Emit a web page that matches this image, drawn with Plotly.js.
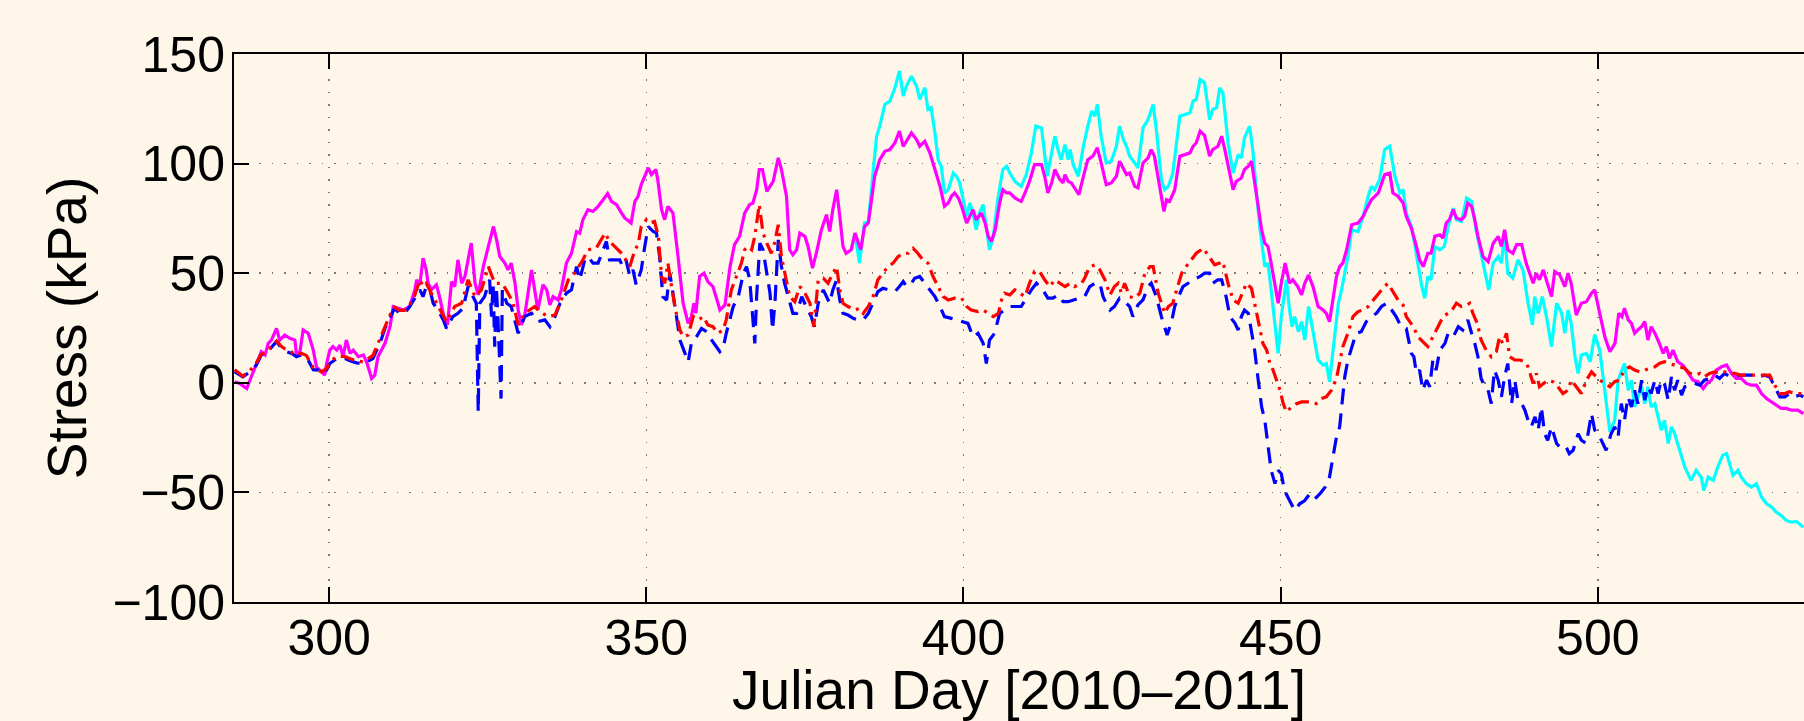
<!DOCTYPE html>
<html>
<head>
<meta charset="utf-8">
<script src="https://cdn.plot.ly/plotly-3.0.1.min.js"></script>
<style>
  html, body { margin: 0; padding: 0; background: #fdf6e9; }
  #chart { width: 1804px; height: 721px; }
</style>
</head>
<body>
<div id="chart"></div>
<script>
// ---- Data ----
const magX = [285.1,285.9,287.0,288.3,289.3,289.9,290.4,290.9,291.7,292.2,293.0,293.8,294.6,294.85,295.4,295.9,296.7,297.5,298.0,298.8,299.3,299.6,300.1,300.6,301.2,301.7,302.2,302.7,303.3,303.8,304.6,305.4,305.9,306.7,307.2,307.7,308.8,309.6,310.1,310.9,311.7,312.2,312.7,313.5,313.8,314.3,314.8,315.3,315.6,316.1,316.9,317.4,318.2,318.65,319.3,319.8,320.3,320.9,321.4,322.4,323.0,323.5,324.3,325.1,325.9,326.4,326.9,327.7,328.2,328.7,329.3,329.8,330.3,330.8,331.4,331.9,332.4,332.9,333.7,334.3,334.8,335.3,336.1,336.6,337.4,338.2,339.0,339.5,340.0,340.8,341.6,342.4,343.2,343.9,344.5,345.3,346.1,346.6,347.6,348.2,348.7,349.2,350.3,350.8,351.5,351.8,352.4,352.9,353.4,354.2,355.0,355.8,356.6,357.1,357.5,357.8,358.4,359.1,359.7,360.5,361.3,361.6,362.4,363.2,363.9,364.7,365.5,366.3,366.8,367.4,367.8,368.3,369.0,370.0,370.8,371.3,372.1,372.6,373.1,373.7,374.2,375.0,375.5,376.2,376.8,377.6,378.4,378.9,379.4,380.0,380.5,381.0,381.5,382.3,382.9,383.3,383.8,384.4,385.0,385.5,386.0,386.8,387.6,388.4,389.2,389.9,390.5,391.0,391.8,392.6,393.1,393.9,394.7,395.5,396.3,397.0,397.6,398.1,398.6,399.2,399.7,400.5,401.0,401.5,402.0,402.8,403.4,403.9,404.4,405.0,405.7,406.2,406.8,407.3,408.1,409.1,409.7,410.4,411.2,412.3,412.8,413.3,413.9,414.4,415.2,415.7,416.0,416.5,417.0,417.5,418.2,418.9,419.6,420.4,421.1,421.7,422.5,423.3,424.1,424.6,425.2,425.7,426.2,427.0,427.5,428.3,429.1,429.6,430.1,430.7,431.2,431.6,432.0,432.5,433.3,434.1,434.9,435.7,436.2,436.7,437.3,438.0,438.8,439.3,440.1,440.7,441.2,442.0,442.5,443.0,443.8,444.3,444.9,445.4,445.9,446.4,447.0,447.5,448.0,448.5,449.1,449.6,450.1,450.7,451.4,451.9,452.7,453.3,453.8,454.4,455.1,455.9,456.7,457.2,457.7,458.3,458.8,459.3,459.8,460.4,461.2,462.2,463.0,463.5,464.3,465.4,466.4,467.2,467.7,468.5,469.3,469.8,470.6,471.4,471.9,472.5,473.2,473.7,474.3,475.1,475.6,476.1,476.6,477.2,477.7,478.5,479.0,479.5,480.1,480.6,481.1,481.9,482.7,483.5,484.3,484.8,485.3,485.8,486.6,487.2,488.0,488.7,489.3,489.8,490.3,490.8,491.4,491.9,492.7,493.2,494.0,494.8,495.3,495.8,496.6,497.4,498.2,499.0,499.5,500.3,501.1,501.9,502.7,503.3,503.8,504.2,504.8,505.3,505.8,506.3,506.9,507.4,507.9,508.4,509.0,509.7,510.3,510.8,511.3,511.85,512.6,513.4,514.2,515.0,515.8,516.6,517.2,517.9,518.7,519.5,520.3,521.05,521.8,522.6,523.4,524.2,525.0,525.8,526.6,527.4,528.1,528.9,529.7,530.5,531.5,532.4];
const magY = [0.5,-0.3,-2.6,7.3,14.2,12.7,18,19.5,24.8,19.5,21.8,20.3,19.5,12.7,14.2,24.1,22.6,14.9,7.3,5,3.5,8.8,14.9,16.5,14.9,17.2,11.9,19.5,13.4,14.9,11.9,12.7,9.6,2,3.5,11.9,18,25.6,34.8,34,33.2,34,34.8,42.4,47,44.7,56.9,51.5,45.4,42.4,44.7,39.3,28.7,26.4,46.2,43.9,56.1,45.4,48.5,63.7,45.4,40.1,53,62.2,71.3,65.2,57.6,54.6,51.5,54.6,45.4,33.2,26.4,30.2,42.4,51.5,42.4,33.2,44.7,42.4,35.5,39.3,37.8,42.4,54.6,59.1,69,68.3,74.4,79,78.2,80.5,83.5,86.3,82.8,81.3,77.4,75.2,72.9,82.8,85.1,90.4,98,95,97.3,92.7,79,74.4,80.5,77.4,57.6,36.3,27.1,30.2,36.3,31.7,48.5,50,46.2,43.9,36.3,33.2,35.5,53,63,66.8,77.4,81.3,82,88.1,97.3,97.3,87.3,91.9,102.6,97.3,85.1,60.7,58.4,60.7,68.3,66.8,62.2,52.3,59.1,69.8,76.7,69,79,88.1,75.9,62.2,59.1,60.7,68.3,65.2,60.7,71.3,72.9,83.5,94.2,101.8,105.6,106.4,109.5,114.8,107.9,110.2,114,111,107.9,110.2,104.9,97.3,89.6,80.5,82,85.1,86.6,84.3,80.5,72.9,75.9,79,74.4,77.4,72.9,66.8,64.5,69.8,82,88.1,86.6,86.6,84.3,82.8,86.6,91.9,99.5,99.5,94.2,86.6,91.2,97.3,92.7,91.2,95,91.9,91.2,88.9,85.8,94.2,101.8,103.4,107.2,100.3,90.4,91.2,94.2,101.1,97.3,95,95.7,89.6,88.9,100.3,102.6,106.4,103.4,92.7,85.1,78.2,83.5,82.8,88.1,103.4,104.1,104.9,107.9,109.5,114.8,112.9,103.4,106.4,107.9,112.5,106.4,94.2,88.1,91.9,93.4,97.3,98.8,101.1,91.2,80.5,69.8,63.7,62.2,54.6,45.4,36.3,45.4,54.6,45.4,47,43.9,40.1,45.4,49.2,43.9,34.8,33.2,31.7,27.9,39.3,48.5,53,54.6,60.7,72.1,72.9,75.9,79,83.5,86.6,95,95.7,86.6,85.1,82,75.9,70.6,62.2,56.1,53,59.1,59.1,66.8,67.5,66,72.9,74.4,79,75.2,74.4,75.9,82,80.5,74.4,66.8,57.6,55.3,63.7,66.8,62.2,69.8,60.7,59.1,63,63,54.6,50,45.4,50,47,51.5,47,39.3,50.8,49.2,43.9,50,45.4,30.9,36.3,37,40.9,42.4,31.7,21,14.2,18,31.7,30.2,34,28.7,27.1,22.6,24.1,25.6,27.9,19.5,25.6,22.6,18,13.4,16.5,11.1,14.9,9.6,8.1,4.3,1.2,0.5,-2.6,-0.3,1.2,5.8,7.3,8.1,4.3,2,2,-0.3,-1.1,-1.1,-4.9,-7.2,-8.7,-10.2,-11.7,-11.7,-12.5,-12.5,-14];

const cyaX = [382.3,382.9,383.6,384.4,385.0,385.75,386.3,386.8,387.6,388.4,389.2,389.9,390.5,391.0,391.8,392.6,393.1,393.9,394.4,394.9,395.5,396.0,396.5,397.0,397.6,398.4,398.9,399.4,399.9,400.5,401.0,401.5,402.0,402.5,403.1,403.6,404.1,404.7,405.4,406.2,406.8,407.3,408.1,409.1,409.9,410.7,411.4,412.3,412.8,413.2,413.9,414.4,414.9,415.4,416.0,416.5,416.8,417.3,418.1,418.9,419.6,420.2,420.7,421.1,421.7,422.5,423.3,424.1,424.6,425.2,425.7,426.2,427.0,427.5,428.3,429.1,429.9,430.4,431.2,431.7,432.3,433.0,434.1,434.9,435.7,436.2,436.7,437.3,438.0,438.8,439.3,439.9,440.4,440.9,441.7,442.5,443.3,443.8,444.3,445.1,445.6,446.2,446.7,447.5,448.0,448.5,449.1,449.6,450.1,450.9,451.4,451.8,452.2,452.8,453.3,453.8,454.4,455.1,455.9,456.7,457.2,457.7,458.3,459.1,459.6,460.1,460.6,461.2,462.2,463.0,463.5,463.8,464.3,464.8,465.6,466.4,467.2,468.0,468.8,469.3,469.8,470.6,471.1,471.65,472.2,472.7,473.2,473.7,474.3,475.1,475.8,476.4,477.2,477.7,478.5,479.3,480.1,480.8,481.6,482.4,482.8,483.5,484.3,484.8,485.3,485.8,486.6,487.4,488.2,489.0,489.7,490.05,490.6,491.25,491.9,492.7,493.5,494.3,494.8,495.3,495.8,496.4,496.9,497.4,498.2,498.8,499.5,500.3,500.8,501.3,501.9,502.65,503.2,503.7,504.2,504.8,505.3,505.8,506.3,506.9,507.4,507.9,508.4,509.0,509.5,510.0,510.5,511.1,511.6,512.1,512.9,513.7,514.7,515.5,516.3,516.7,517.4,518.2,518.9,519.7,520.3,520.8,521.3,522.1,522.6,523.4,524.2,525.0,525.8,526.6,527.4,528.1,528.9,529.7,530.5,531.3,532.4];
const cyaY = [60.7,68.3,54.6,72.9,73.5,97.3,112.5,117.1,127,128.5,134.6,142.2,130.8,135.4,139.9,135.4,129.3,134.6,124.7,125.5,114,101.8,98.8,86.6,88.1,95.7,94.2,91.2,83.5,75.9,82,77.4,69.8,77.4,81.3,69.8,60.7,66.8,83.5,97.3,98.8,95.7,91.9,89.6,95,104.9,117.1,116.3,103.4,94.2,104.9,112.5,106.4,101.8,108.7,101.8,106.4,99.5,94.2,107.9,117.1,123.9,121.6,127,112.5,100.3,101.1,107.9,117.1,111,107.9,103.4,100.3,98,116.3,120.1,127,115.5,92.7,88.1,89.6,95.7,121.6,122.4,123.2,128.5,129.3,138.4,136.9,120.1,124.7,125.5,134.6,132.3,109.5,95.7,104.1,102.6,111.7,117.1,106.4,86.6,71.3,53,54.6,42.4,27.1,13.4,30.2,47,33.2,25.6,30.2,23.3,27.9,19.5,34.8,22.6,10.4,8.1,8.8,0.5,14.9,36.3,42.4,50,57.6,69.8,69,76,82,85.1,89.6,88,92.7,106.4,107.9,94.2,86.6,88.1,77.4,71.3,63.7,54.6,44.7,38.6,48.5,47,62.2,60.7,62.2,71.3,79.7,74.4,73.6,84.3,82.8,69.8,59.1,47,42.4,54.6,57.6,54.6,68.3,50,47.7,56.1,51.5,36.3,26.4,39.3,31.7,39.3,30.2,16.5,36.3,31.7,22.6,33.2,27.1,11.9,4.3,12.7,13.4,9.6,22,14.9,2.7,-9.5,-22.4,-17.1,1.2,5,8.8,-3.4,1.2,-11,-6.4,-1.8,-9.5,-1.8,-11,-9.5,-15.5,-21.6,-17.1,-27.7,-20.1,-23.2,-30.8,-38.4,-44.5,-39.9,-43,-49.1,-43,-44.5,-38.4,-33,-32.3,-37,-42.2,-39.9,-43,-46,-47.6,-46,-52.1,-55.2,-56.7,-59,-60.5,-62.8,-63.6,-63.2,-65.9];

const bluX = [285.1,286.4,287.5,288.5,289.3,290.1,291.2,291.7,292.5,293.3,294.1,294.85,295.6,296.4,297.5,298.3,298.8,299.6,300.1,301.2,302.5,303.3,304.3,305.4,306.9,308.0,308.8,309.6,310.3,311.1,311.9,312.7,313.5,314.3,314.8,315.3,315.9,316.4,317.2,318.0,318.5,319.5,320.3,321.1,321.9,322.7,323.2,323.5,323.75,324.5,325.3,325.6,325.85,326.1,326.35,326.6,327.1,327.3,328.0,328.7,329.8,330.8,331.9,332.9,334.0,334.8,335.6,336.4,337.4,338.2,339.0,339.5,340.3,340.8,341.6,342.4,343.7,344.2,345.0,345.8,346.3,346.8,347.4,347.9,348.4,349.2,349.75,350.3,351.1,351.6,352.1,352.6,353.2,353.7,354.2,354.7,355.3,356.1,356.6,357.1,357.9,358.7,359.5,360.3,361.1,361.6,362.1,362.6,363.7,364.5,365.3,365.8,366.3,366.8,367.1,367.4,367.9,368.4,369.0,369.5,369.9,370.3,370.8,371.3,371.8,372.6,373.1,373.7,374.5,375.2,376.0,376.5,377.1,377.9,378.4,378.9,379.4,380.0,380.5,381.0,381.8,382.6,383.4,384.2,385.0,385.75,386.5,387.3,388.1,389.2,389.9,390.5,391.0,391.8,392.3,393.1,393.9,394.7,395.5,396.3,397.0,398.1,398.9,399.9,400.7,401.5,402.3,403.1,403.6,404.1,404.9,405.7,406.5,407.3,408.1,409.1,409.9,410.7,411.5,412.5,413.3,414.1,414.9,415.7,416.5,417.3,418.3,419.1,419.9,420.7,421.5,422.0,422.5,423.1,423.8,424.6,425.4,426.2,426.7,427.5,428.3,429.1,429.6,430.4,431.2,431.7,432.1,432.8,433.3,433.8,434.6,435.4,436.2,437.3,438.0,438.8,439.3,440.1,440.7,441.4,442.0,442.8,443.3,443.8,444.3,444.9,445.4,445.9,446.4,447.0,447.5,448.0,448.5,449.1,449.6,450.1,450.6,451.4,452.2,453.0,453.8,454.6,455.4,456.2,457.0,457.7,458.3,458.8,459.3,459.7,460.1,460.6,461.2,461.9,462.7,463.5,464.3,465.1,465.9,466.7,467.5,468.2,469.0,469.8,470.6,471.0,471.4,471.9,472.4,473.0,473.5,474.0,474.5,475.1,475.9,476.4,477.2,478.0,478.7,479.5,480.1,480.6,481.1,481.6,482.2,482.7,483.2,483.7,484.3,484.8,485.3,485.8,486.4,486.9,487.4,488.0,488.5,489.0,489.5,490.1,490.6,491.1,491.6,492.1,492.7,493.5,494.2,495.0,495.5,496.1,496.9,497.4,498.2,499.0,499.5,500.3,500.8,501.3,502.1,502.65,503.2,503.7,504.2,504.75,505.3,505.8,506.3,506.9,507.4,507.9,508.4,509.0,509.5,510.0,510.5,511.1,511.6,512.1,512.6,513.2,513.7,514.5,515.3,516.1,516.8,517.6,518.4,519.2,520.0,520.8,521.6,522.4,523.1,523.9,524.7,525.5,526.3,527.1,527.9,528.7,529.5,530.2,531.0,531.8,532.4];
const bluY = [5,2.7,5,8,12.7,13.4,17.2,18.8,15.7,14.2,13.4,11.9,12.7,11.9,6,5.8,4.3,5.8,8.8,11.1,11.1,10,9.1,8.8,11.1,18,24.8,30.2,34,31.7,31.7,34.8,38.6,42.4,39.3,43.9,42.4,36.3,33,28.7,24.8,30.2,31.7,34,43.9,39.3,36.3,-13.3,36.3,39.3,47,30.2,45.4,16.5,43.9,30.2,-7.2,42.4,36.3,34.8,22.6,30.2,31.7,27.9,28.7,25.6,30.2,36.3,40.9,42.4,53,47,56.1,57.6,54.6,54.6,64.5,56.1,56.1,56.1,53,56.1,48.5,51.5,44.7,51.5,62.2,71.3,69,68.3,57.6,39.3,37.8,50,40.9,30.2,19.5,13.4,9.6,18,21,24.8,23.3,19.5,16.5,14.2,15.7,22.6,34.8,39.3,50,53,47,30.2,18,40,63.7,60.7,48.5,40.9,24.1,37.8,65.2,53,45.4,36.3,31.7,31.7,39.3,34.8,30.2,25.6,36.3,42.4,39.3,36.3,42.4,47,37.8,31.7,30.9,29.4,28.7,28.7,31.7,36.3,41.6,43.1,42.4,41.6,43.9,46.2,43.9,45.4,47.7,48.5,45.4,42.4,39.3,34.8,30.2,29.4,28.7,27.9,27.1,21,22.6,18,8.8,19.5,22.6,31.7,33.2,34.8,34.8,34.8,38.6,42.4,45.4,42.4,38.6,38.6,40.1,37,37,37.8,38.6,39.3,43.9,45.4,45.4,39.3,36.3,33.2,34.8,38.6,37,34.8,30.2,35.5,37.8,43.9,45.4,39.3,30.2,25.6,21.8,27.9,34.8,38.6,43.9,45.4,47,48.5,50,50,45.4,47,47,39.3,30.2,27.1,24.1,30.2,33.2,31.7,24.1,14.9,2.7,-11,-17.1,-29.3,-39.9,-46,-39.9,-41.5,-49.1,-53.7,-58.2,-55.2,-53.7,-50.6,-52.9,-50.6,-47.6,-43,-33.8,-24.7,-20.1,-9.5,2.7,10.4,15.7,22.6,23.3,27.9,30.2,31.7,34.8,36.3,33.2,30.2,25.6,24.8,13.4,11.9,4.3,5.8,-3.4,1.2,-1.8,10.4,5.8,14.9,18,22.6,21,25.6,24.1,28.7,22.6,18,11.9,2,-1.8,-3.4,-9.5,5.8,1.2,-6.4,2.7,8.8,-9.5,1.2,-7.9,-9.5,-12.5,-17.1,-20.1,-15.5,-21.6,-11,-23.2,-26.2,-20.1,-27.7,-30,-29.3,-32.3,-30.8,-23.2,-26.2,-27.7,-14,-21.5,-24.7,-27.7,-30.8,-23.2,-20.1,-24.7,-9.5,-17.1,-6.4,-11,-3.4,-9.5,1.2,-7.9,-1.8,-4.9,1.2,-4.9,1.2,-0.3,-7.9,2.7,-3.4,1.2,-5.6,-1.8,-1.1,-0.3,-1.1,1.2,2,3.5,2,4.3,2.7,3.5,3.5,3.5,3.5,3.5,2.7,3.5,2.7,-1.8,-6.4,-6.4,-4.9,-6.4,-5.6,-6.4];

const redX = [285.1,286.4,287.5,288.5,289.3,290.1,291.2,291.7,292.5,293.3,294.1,294.85,295.6,296.4,297.5,298.3,298.8,299.6,300.1,301.2,302.5,303.3,304.3,305.4,306.9,308.0,308.8,309.6,310.3,311.1,311.9,312.7,313.5,314.3,314.8,315.3,316.1,317.7,318.5,319.8,320.9,321.9,323.0,324.0,325.1,326.1,327.3,328.5,329.0,329.8,330.8,332.4,333.2,334.5,335.6,336.6,337.7,338.7,340.0,340.8,342.1,343.5,344.2,345.0,346.1,346.6,347.4,348.2,348.7,349.2,350.0,350.5,351.3,351.9,352.4,352.9,353.4,353.9,354.5,355.3,355.8,356.6,357.4,358.2,359.0,359.7,360.5,361.3,362.1,362.6,363.4,364.2,365.0,365.5,366.0,366.6,367.1,367.8,368.4,369.0,369.7,370.2,370.8,371.3,371.8,372.6,373.4,374.2,375.0,375.8,376.4,377.1,377.9,378.65,379.4,380.0,380.5,381.0,381.8,382.9,383.6,384.2,385.0,385.75,386.5,387.3,388.1,388.9,389.7,390.5,391.3,392.05,392.8,393.6,394.4,395.2,396.0,396.8,397.6,398.6,399.7,400.5,401.2,402.3,403.1,403.9,404.7,405.5,406.0,406.5,407.3,408.1,408.9,409.7,410.4,411.2,412.0,412.8,413.6,414.4,415.2,416.0,416.8,417.5,418.6,419.1,419.9,420.7,421.5,422.3,423.1,423.8,424.4,424.9,425.4,426.2,427.0,427.8,428.6,429.4,429.9,430.7,431.2,431.7,432.3,433.0,433.6,434.4,435.1,435.9,436.7,437.8,438.8,439.6,440.4,440.9,441.7,442.5,443.3,444.1,444.6,445.4,445.9,446.7,447.2,447.8,448.3,448.8,449.3,449.9,450.4,450.9,451.7,452.5,453.3,454.0,454.8,455.6,456.4,457.2,458.0,458.8,459.3,459.8,460.6,461.4,462.2,463.0,463.8,464.6,465.4,466.1,466.9,467.7,468.5,469.3,469.8,470.9,471.65,472.4,473.2,474.0,474.8,475.6,476.4,477.2,477.7,478.5,479.3,479.8,480.3,481.0,481.6,482.4,483.2,484.0,484.5,485.0,485.6,486.1,486.9,487.7,488.5,489.0,489.8,490.3,490.8,491.4,492.1,492.9,493.7,494.5,495.3,495.8,496.6,497.4,498.2,499.0,499.5,500.3,501.1,501.9,502.65,503.4,504.2,505.0,505.8,506.6,507.4,508.2,509.0,509.7,510.5,511.3,512.1,512.9,513.7,514.5,515.3,516.1,516.8,517.6,518.4,519.2,520.0,520.8,521.6,522.4,523.9,525.5,527.1,527.9,528.7,529.5,530.2,531.0,532.4];
const redY = [6,3,5.5,9,13,14,17.5,19,16.5,15,14,12.5,13.5,12.5,7,6,5,6.5,9.5,12,12,11,10,9.5,12.5,20,26,31,34.5,33,33,35.5,40,47,44,45.4,40.9,31.7,27.9,34.8,36.3,47,39.3,42.4,53,45.4,45.4,39.3,36.3,26.4,31.7,34.8,32.5,30.2,30.9,37.8,47,50,56.1,60.7,61.4,68.3,64.5,62.2,59.1,56.9,53,60.7,63,71.3,74.4,72.9,73.6,66.8,48.5,45.4,54.6,45.4,34.8,24.1,21,21.8,30.2,28.7,30.2,26.4,25.6,22.6,24.1,28.7,42.4,48.5,54.6,60.7,62.2,60.7,66.8,81.3,68.3,63.7,59.1,63.7,72.1,57.6,50,39.3,37,43.9,40.9,36.3,25.6,47,47.7,45.4,50,53,42.4,36.3,34.8,33.2,34,31.7,34.8,39.3,47,50,53,54.6,57.6,59.1,59.1,61.4,59.1,56.1,54.6,48.5,43.9,39.3,37.8,38.6,38.6,34.8,33.2,32.5,33.2,31.7,30.2,31.7,37.8,40.9,40.1,42.4,40.9,39.3,45.4,50.8,50.8,47,43.9,47,45.4,43.9,45.4,43.9,45.4,47.7,53,53.8,51.5,47,40.1,43.9,45.4,40.9,45.4,39.3,38.6,40.9,50,53,53,40.9,36.3,31.7,34.8,36.3,42.4,50,53,56.1,59.1,61.4,57.5,53.8,54.6,55.3,45.4,37.8,36.3,42.4,45.4,43.1,36.3,24.1,18,14.9,8.8,5.8,1.2,-3.4,-9.5,-13.3,-11,-9.5,-8.7,-8.7,-8.7,-9.5,-7.2,-6.4,-3.4,2,8.8,16.5,22.6,30.2,32.5,33.2,34.8,37.8,40.9,43.1,45.4,41.6,37.8,35.5,30.2,25.6,21,18.8,16.5,21,25.6,30.2,31.7,34,36.3,34.8,35.5,36.3,31.7,27.1,19.5,14.9,11.9,14.2,21,18,22.6,11.9,10.4,10.4,9.6,7.3,-0.3,4.3,-1.8,-0.3,1.2,0.5,-1.8,-4.9,-3.4,1.2,-1.8,-4.9,1.2,5,3.5,1.2,-0.3,-1.8,0.5,1.2,5.8,7.3,5.8,5,5.8,6.6,7.3,8.8,9.6,8.8,8.1,7.3,6.6,4.3,3.5,4.3,2.7,4.3,5,4.3,5,4.3,4.3,3.5,3.5,3.5,3.5,-1.1,-4.9,-4.9,-4.1,-4.9,-4.9];

const xTicks = [300, 350, 400, 450, 500];
const yTicks = [-100, -50, 0, 50, 100, 150];
const xTitle = 'Julian Day [2010\u20132011]';
const yTitle = 'Stress (kPa)';

// ---- Chart ----
const FONT = 'Liberation Sans, Arial, Helvetica, sans-serif';
const BG = '#fdf6e9';

const traces = [
  {x: cyaX, y: cyaY, mode: 'lines', line: {color: '#00ffff', width: 3.2}},
  {x: magX, y: magY, mode: 'lines', line: {color: '#ff00ff', width: 3.2}},
  {x: bluX, y: bluY, mode: 'lines', line: {color: '#0000ff', width: 3.2, dash: '16px,9px'}},
  {x: redX, y: redY, mode: 'lines', line: {color: '#ff0000', width: 3.2, dash: '14px,6px,3px,6px'}}
];

const axisCommon = {
  showline: true, linecolor: '#000', linewidth: 2,
  ticks: 'inside', ticklen: 15, tickwidth: 2, tickcolor: '#000',
  showgrid: true, gridcolor: '#7a7a7a', gridwidth: 1.5, griddash: '1.5px,11px',
  zeroline: false, tickfont: {family: FONT, size: 50, color: '#000'}
};

const layout = {
  width: 1804, height: 721,
  paper_bgcolor: BG, plot_bgcolor: BG,
  showlegend: false,
  margin: {l: 234, r: 0, t: 54, b: 119, pad: 0},
  xaxis: Object.assign({}, axisCommon, {
    range: [285, 532.5], tickmode: 'array', tickvals: xTicks,
    mirror: 'ticks', ticklabelstandoff: -9,
    title: {text: xTitle, font: {family: FONT, size: 55, color: '#000'}, standoff: 19}
  }),
  yaxis: Object.assign({}, axisCommon, {
    range: [-100, 150], tickmode: 'array', tickvals: yTicks,
    mirror: false, ticklabelstandoff: -3,
    title: {text: yTitle, font: {family: FONT, size: 55, color: '#000'}, standoff: 8}
  })
};

Plotly.newPlot('chart', traces, layout, {staticPlot: true, displayModeBar: false});
</script>
</body>
</html>
